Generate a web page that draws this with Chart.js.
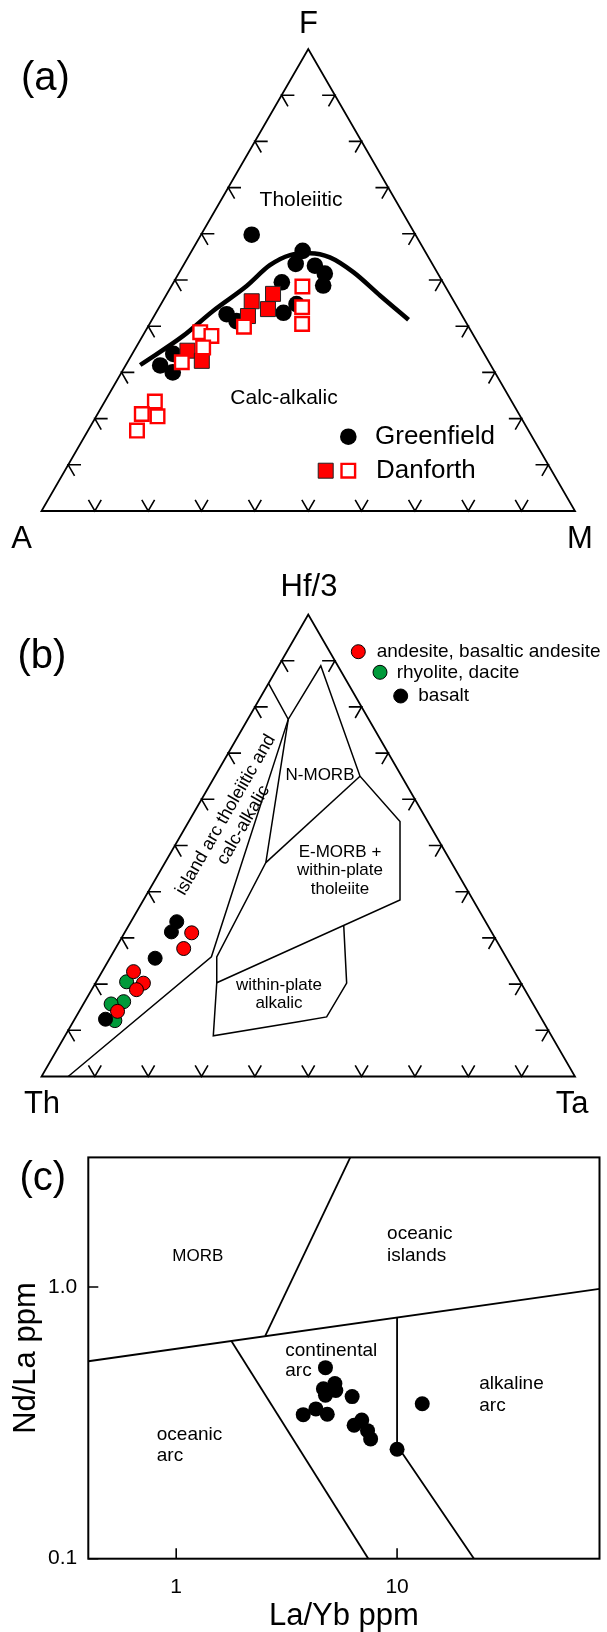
<!DOCTYPE html>
<html>
<head>
<meta charset="utf-8">
<title>AFM, Hf/3-Th-Ta and Nd/La vs La/Yb</title>
<script src="https://cdn.jsdelivr.net/npm/chart.js@4.4.1/dist/chart.umd.min.js"></script>
<style>
  html, body { margin: 0; padding: 0; background: #fff; }
  #wrap { position: relative; width: 607px; height: 1632px; overflow: hidden; }
  canvas { position: absolute; left: 0; }
</style>
</head>
<body>
<div id="wrap">
  <canvas id="afm" width="607" height="560" style="top:0"></canvas>
  <canvas id="hfthta" width="607" height="560" style="top:560px"></canvas>
  <canvas id="ndla" width="607" height="512" style="top:1120px"></canvas>
</div>
<script>
// ---------- (a) AFM diagram: F and M in %, A = 100 - F - M
const greenfieldF = [59.8, 56.3, 53.5, 53.1, 51.4, 48.8, 49.5, 44.8, 42.9, 42.6, 41.1, 34.0, 31.5, 30.0];
const greenfieldM = [9.5, 20.8, 20.9, 24.7, 27.4, 28.4, 20.3, 25.4, 23.9, 13.4, 16.0, 7.7, 6.5, 9.6];
const danforthFilledF = [45.4, 47.0, 43.7, 42.2, 34.7, 32.5];
const danforthFilledM = [16.7, 19.9, 20.6, 17.6, 10.0, 13.8];
const danforthOpenF = [48.6, 44.1, 40.5, 39.9, 38.7, 37.9, 35.4, 32.2, 23.7, 21.0, 20.5, 17.4];
const danforthOpenM = [24.6, 26.8, 28.6, 18.0, 10.4, 12.9, 12.6, 10.2, 9.4, 8.3, 11.5, 9.2];
// tholeiitic / calc-alkalic divide
const divideF = [31.6, 37.9, 43.3, 48.7, 53.2, 55.4, 55.8, 54.9, 51.7, 46.6, 41.4];
const divideM = [2.7, 7.6, 10.5, 14.1, 16.2, 18.9, 22.4, 26.6, 32.6, 40.2, 48.1];
const ternTickValues = [10, 20, 30, 40, 50, 60, 70, 80, 90];

// ---------- (b) Hf/3 - Th - Ta: Hf/3 and Ta in %, Th = 100 - Hf/3 - Ta
const andesiteHf = [31.1, 27.7, 22.7, 20.2, 18.8, 14.1];
const andesiteTa = [12.6, 12.8, 5.9, 9.0, 8.4, 7.2];
const rhyoliteHf = [20.5, 16.2, 15.7, 12.1];
const rhyoliteTa = [5.7, 7.3, 5.2, 7.7];
const basaltHf = [33.5, 31.3, 25.6, 12.4];
const basaltTa = [8.6, 8.7, 8.5, 5.8];
// field boundaries
const outerHf = [85.1, 77.3, 88.9, 65.0, 55.2, 38.2, 20.3, 25.9, 46.3, 77.3];
const outerTa = [0, 7.6, 7.9, 27.2, 39.6, 48.1, 22.7, 19.9, 18.9, 7.6];
const morbSplitHf = [65.0, 46.3];
const morbSplitTa = [27.2, 18.9];
const arcLineHf = [77.3, 25.9, 0];
const arcLineTa = [7.6, 18.9, 5.0];
const alkalicHf = [32.7, 20.2, 12.9, 11.9, 8.8, 20.3];
const alkalicTa = [40.3, 47.1, 47.0, 42.5, 27.8, 22.7];

// ---------- (c) Nd/La vs La/Yb
const laYb = [4.74, 5.23, 5.28, 4.64, 4.74, 6.26, 3.76, 4.29, 4.83, 6.92, 6.39, 7.35, 7.59, 10.0, 13.0];
const ndLa = [0.505, 0.441, 0.416, 0.422, 0.400, 0.395, 0.339, 0.356, 0.340, 0.324, 0.310, 0.296, 0.276, 0.253, 0.372];
const morbLineX = [0.4, 82.5];
const morbLineY = [0.533, 0.985];
const islandLineX = [2.53, 6.14];
const islandLineY = [0.661, 3.0];
const contLineX = [1.78, 7.41];
const contLineY = [0.632, 0.1];
const alkLineX = [10, 10, 22.3];
const alkLineY = [0.772, 0.261, 0.1];
const xTickValues = [1, 10];
const xTickLabels = ['1', '10'];
const yTickValues = [0.1, 1];
const yTickLabels = ['0.1', '1.0'];

const FONT = "'Liberation Sans', Arial, Helvetica, sans-serif";
Chart.defaults.font.family = FONT;
Chart.defaults.color = '#000';

// top apex share + right vertex share -> x along base, y = height fraction
function tern(top, right) {
  return { x: (right + top / 2) / 100, y: top / 100 };
}
function ternPoints(tops, rights) {
  return tops.map((t, i) => tern(t, rights[i]));
}
function xyPoints(xs, ys) {
  return xs.map((x, i) => ({ x: x, y: ys[i] }));
}

// little chevron ticks on the three sides, along the other two grid directions
function edgeTicks(vals, len) {
  const gap = { x: NaN, y: NaN };
  const pts = [];
  vals.forEach(v => {
    pts.push(tern(v, len), tern(v, 0), tern(v - len, len), gap);
    pts.push(tern(v, 100 - v - len), tern(v, 100 - v), tern(v - len, 100 - v), gap);
    pts.push(tern(len, v - len), tern(0, v), tern(len, v), gap);
  });
  return pts;
}

function lineSet(data, width, order) {
  return { data: data, showLine: true, borderColor: '#000', borderWidth: width,
           pointRadius: 0, fill: false, order: order, clip: false };
}
function markSet(data, style, radius, fillCol, lineCol, lineW, order) {
  return { data: data, showLine: false, pointStyle: style, pointRadius: radius,
           pointBackgroundColor: fillCol, pointBorderColor: lineCol, pointBorderWidth: lineW,
           order: order, clip: false };
}
function frameSets() {
  const A = tern(0, 0), M = tern(0, 100), F = tern(100, 0);
  return [lineSet([A, M, F, A, M], 1.8, 20), lineSet(edgeTicks(ternTickValues, 2.4), 1.6, 21)];
}

// texts and legend symbols drawn in canvas pixels
function annotate(texts, marks) {
  return {
    id: 'annotate',
    afterDraw(chart) {
      const ctx = chart.ctx;
      (marks || []).forEach(m => {
        ctx.save();
        ctx.fillStyle = m.fill;
        ctx.strokeStyle = m.stroke;
        ctx.lineWidth = m.width;
        Chart.helpers.drawPoint(ctx, { pointStyle: m.style, radius: m.r, rotation: 0, borderWidth: m.width }, m.x, m.y);
        ctx.restore();
      });
      texts.forEach(t => {
        ctx.save();
        ctx.font = t.size + 'px ' + FONT;
        ctx.fillStyle = '#000';
        ctx.textAlign = t.align || 'center';
        ctx.textBaseline = 'middle';
        ctx.translate(t.x, t.y);
        if (t.rot) ctx.rotate(t.rot * Math.PI / 180);
        ctx.fillText(t.text, 0, 0);
        ctx.restore();
      });
    }
  };
}

function ternaryChart(id, datasets, pad, texts, marks) {
  return new Chart(document.getElementById(id), {
    type: 'scatter',
    data: { datasets: datasets.concat(frameSets()) },
    options: {
      responsive: false,
      animation: false,
      events: [],
      layout: { padding: pad },
      plugins: { legend: { display: false }, tooltip: { enabled: false } },
      scales: {
        x: { type: 'linear', display: false, min: 0, max: 1 },
        y: { type: 'linear', display: false, min: 0, max: 1 }
      }
    },
    plugins: [annotate(texts, marks)]
  });
}

// (a)
const divideCurve = lineSet(ternPoints(divideF, divideM), 4.5, 10);
divideCurve.cubicInterpolationMode = 'monotone';

ternaryChart('afm', [
  divideCurve,
  markSet(ternPoints(greenfieldF, greenfieldM), 'circle', 8.3, '#000', '#000', 0, 3),
  markSet(ternPoints(danforthFilledF, danforthFilledM), 'rect', 10.6, '#ff0000', '#222', 1, 2),
  markSet(ternPoints(danforthOpenF, danforthOpenM), 'rect', 9.6, '#fff', '#ff0000', 2.4, 1)
], { left: 41.5, right: 32, top: 49, bottom: 49 }, [
  { text: '(a)', x: 21, y: 79, size: 40, align: 'left' },
  { text: 'F', x: 308.5, y: 24, size: 31 },
  { text: 'A', x: 21.5, y: 539, size: 31 },
  { text: 'M', x: 580, y: 539, size: 31 },
  { text: 'Tholeiitic', x: 301, y: 200, size: 21 },
  { text: 'Calc-alkalic', x: 284, y: 398, size: 21 },
  { text: 'Greenfield', x: 375, y: 437, size: 26, align: 'left' },
  { text: 'Danforth', x: 376, y: 471, size: 26, align: 'left' }
], [
  { style: 'circle', r: 8.3, x: 348.3, y: 436.7, fill: '#000', stroke: '#000', width: 0 },
  { style: 'rect', r: 10.6, x: 325.7, y: 470.7, fill: '#ff0000', stroke: '#222', width: 1 },
  { style: 'rect', r: 9.6, x: 348.3, y: 470.7, fill: '#fff', stroke: '#ff0000', width: 2.4 }
]);

// (b)
ternaryChart('hfthta', [
  lineSet(ternPoints(outerHf, outerTa), 1.5, 10),
  lineSet(ternPoints(morbSplitHf, morbSplitTa), 1.5, 10),
  lineSet(ternPoints(arcLineHf, arcLineTa), 1.5, 10),
  lineSet(ternPoints(alkalicHf, alkalicTa), 1.5, 10),
  markSet(ternPoints(rhyoliteHf, rhyoliteTa), 'circle', 7, '#009a3a', '#000', 1, 3),
  markSet(ternPoints(basaltHf, basaltTa), 'circle', 7, '#000', '#000', 1, 2),
  markSet(ternPoints(andesiteHf, andesiteTa), 'circle', 7, '#ff0000', '#000', 1, 1)
], { left: 41.5, right: 32, top: 54.5, bottom: 43.5 }, [
  { text: '(b)', x: 17.4, y: 97, size: 40, align: 'left' },
  { text: 'Hf/3', x: 309, y: 27, size: 31 },
  { text: 'Th', x: 42, y: 544, size: 31 },
  { text: 'Ta', x: 572, y: 544, size: 31 },
  { text: 'N-MORB', x: 320, y: 215, size: 17 },
  { text: 'E-MORB +', x: 340, y: 292, size: 17 },
  { text: 'within-plate', x: 340, y: 310.5, size: 17 },
  { text: 'tholeiite', x: 340, y: 329, size: 17 },
  { text: 'within-plate', x: 279, y: 425, size: 17 },
  { text: 'alkalic', x: 279, y: 443.5, size: 17 },
  { text: 'island arc tholeiitic and', x: 225.6, y: 254.9, size: 18, rot: -60 },
  { text: 'calc-alkalic', x: 243.4, y: 265.1, size: 18, rot: -60 },
  { text: 'andesite, basaltic andesite', x: 376.7, y: 91.7, size: 19, align: 'left' },
  { text: 'rhyolite, dacite', x: 396.7, y: 112.3, size: 19, align: 'left' },
  { text: 'basalt', x: 418.3, y: 136, size: 19, align: 'left' }
], [
  { style: 'circle', r: 7, x: 358.3, y: 91.7, fill: '#ff0000', stroke: '#000', width: 1 },
  { style: 'circle', r: 7, x: 380, y: 112.3, fill: '#009a3a', stroke: '#000', width: 1 },
  { style: 'circle', r: 7, x: 400.7, y: 136, fill: '#000', stroke: '#000', width: 1 }
]);

// (c)
new Chart(document.getElementById('ndla'), {
  type: 'scatter',
  data: {
    datasets: [
      lineSet(xyPoints(morbLineX, morbLineY), 1.8, 5),
      lineSet(xyPoints(islandLineX, islandLineY), 1.8, 5),
      lineSet(xyPoints(contLineX, contLineY), 1.8, 5),
      lineSet(xyPoints(alkLineX, alkLineY), 1.8, 5),
      markSet(xyPoints(laYb, ndLa), 'circle', 7.5, '#000', '#000', 0, 1)
    ]
  },
  options: {
    responsive: false,
    animation: false,
    events: [],
    layout: { padding: { top: 37.4, right: 3, left: 0, bottom: 0 } },
    plugins: { legend: { display: false }, tooltip: { enabled: false } },
    scales: {
      x: {
        type: 'logarithmic', min: 0.4, max: 82.5,
        afterFit: s => { s.height = 73.3; },
        afterBuildTicks: s => { s.ticks = xTickValues.map(v => ({ value: v })); },
        ticks: {
          autoSkip: false, maxRotation: 0, padding: 15.7, color: '#000',
          font: { size: 21 },
          callback: v => xTickLabels[xTickValues.indexOf(v)]
        },
        grid: { display: false, drawTicks: false },
        border: { display: false },
        title: { display: true, text: 'La/Yb ppm', color: '#000', font: { size: 31, lineHeight: 1 }, padding: 0 }
      },
      y: {
        type: 'logarithmic', min: 0.1, max: 3,
        afterFit: s => { s.width = 88.3; },
        afterBuildTicks: s => { s.ticks = yTickValues.map(v => ({ value: v })); },
        ticks: {
          autoSkip: false, padding: 11, color: '#000',
          font: { size: 21 },
          callback: v => yTickLabels[yTickValues.indexOf(v)]
        },
        grid: { display: false, drawTicks: false },
        border: { display: false },
        title: { display: true, text: 'Nd/La ppm', color: '#000', font: { size: 31, lineHeight: 1 }, padding: { top: 10.5, bottom: 0 } }
      }
    }
  },
  plugins: [{
    id: 'frame',
    afterDatasetsDraw(chart) {
      const { ctx, chartArea: a, scales } = chart;
      ctx.save();
      ctx.strokeStyle = '#000';
      ctx.lineWidth = 2;
      ctx.strokeRect(a.left, a.top, a.right - a.left, a.bottom - a.top);
      ctx.lineWidth = 1.6;
      ctx.beginPath();
      xTickValues.forEach(v => {
        const px = scales.x.getPixelForValue(v);
        ctx.moveTo(px, a.bottom);
        ctx.lineTo(px, a.bottom - 10.5);
      });
      yTickValues.forEach(v => {
        const py = scales.y.getPixelForValue(v);
        ctx.moveTo(a.left, py);
        ctx.lineTo(a.left + 10, py);
      });
      ctx.stroke();
      ctx.restore();
    }
  }, annotate([
    { text: '(c)', x: 19.4, y: 58.6, size: 40, align: 'left' },
    { text: 'MORB', x: 172.3, y: 136, size: 17, align: 'left' },
    { text: 'oceanic', x: 387.1, y: 113.8, size: 19, align: 'left' },
    { text: 'islands', x: 387.1, y: 135.3, size: 19, align: 'left' },
    { text: 'continental', x: 285.3, y: 230.3, size: 19, align: 'left' },
    { text: 'arc', x: 285.3, y: 250.7, size: 19, align: 'left' },
    { text: 'alkaline', x: 479.3, y: 263.4, size: 19, align: 'left' },
    { text: 'arc', x: 479.3, y: 285.6, size: 19, align: 'left' },
    { text: 'oceanic', x: 156.8, y: 314.8, size: 19, align: 'left' },
    { text: 'arc', x: 156.8, y: 335.9, size: 19, align: 'left' }
  ])]
});
</script>
</body>
</html>
